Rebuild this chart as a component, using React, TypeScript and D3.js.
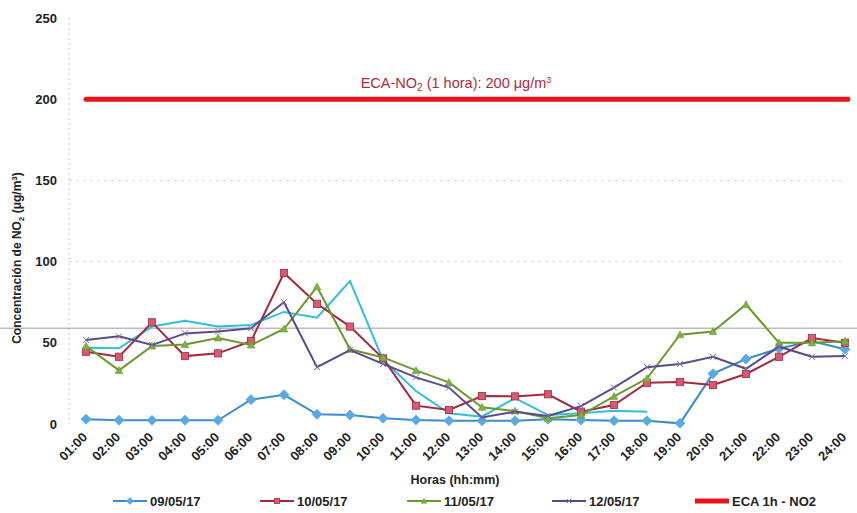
import React from "react";
import * as d3 from "d3";

const hours = [
  "01:00","02:00","03:00","04:00","05:00","06:00","07:00","08:00","09:00","10:00","11:00","12:00",
  "13:00","14:00","15:00","16:00","17:00","18:00","19:00","20:00","21:00","22:00","23:00","24:00",
];

const s0905 = [3, 2.3, 2.3, 2.3, 2.3, 15, 18, 6, 5.5, 3.5, 2.5, 2, 2, 2, 3, 2.5, 2, 2, 0.4, 31, 40, 46.5, 51, 46];
const s1005 = [44.5, 41.4, 62.6, 41.8, 43.5, 51, 93, 74, 60, 40.4, 11.3, 8.6, 17.2, 17, 18.3, 7.6, 11.7, 25.4, 25.8, 24, 30.8, 41.4, 53, 50];
const s1105 = [48, 33, 48, 49, 53, 48.6, 58.5, 84.5, 46, 41, 33, 25.6, 10.3, 8, 3.5, 5.5, 17, 28, 55, 57, 73.6, 50, 50, 51];
const s1205 = [51.7, 54, 48.6, 55.8, 57, 59, 75, 35, 45.5, 37, 28.7, 22.4, 4, 7.6, 5, 11, 22.4, 35, 37, 41.4, 34, 47.6, 41.4, 41.8];
const sCyan = [47, 46.6, 60, 63.6, 60, 61, 69, 65.4, 88, 39.4, 20.3, 6.6, 4.5, 16, 5.5, 6.6, 8.2, 7.6];

const yTicks = [0, 50, 100, 150, 200, 250];
const gridTicks = [100, 150];
const ecaLimit = 200;
const scanLine = 59;

const legendLabels = ["09/05/17", "10/05/17", "11/05/17", "12/05/17", "ECA 1h - NO2"];

export default function App() {
  const W = 857, H = 513;
  const x = d3.scalePoint<string>().domain(hours).range([86, 845]);
  const y = d3.scaleLinear().domain([0, 250]).range([424, 18]);
  const line = d3.line<number>().x((_, i) => x(hours[i]) as number).y((d) => y(d));
  const font = "Arial, 'Liberation Sans', sans-serif";

  const series = [
    { data: s0905, color: "#3a8ccc", marker: "diamond", mfill: "#5aaae2" },
    { data: s1005, color: "#a32a3e", marker: "square", mfill: "#d65a72" },
    { data: s1105, color: "#6a9a2e", marker: "triangle", mfill: "#7fb042" },
    { data: s1205, color: "#5a4a8c", marker: "x", mfill: "#7a6aa8" },
  ];

  const drawMarker = (type: string, cx: number, cy: number, fill: string, stroke: string, key: string, sc = 1) => {
    if (type === "diamond") {
      const r = 5 * sc;
      return <path key={key} d={`M${cx},${cy - r}L${cx + r},${cy}L${cx},${cy + r}L${cx - r},${cy}Z`} fill={fill} stroke={fill} strokeWidth={0.8} />;
    }
    if (type === "square") {
      const r = 3.6 * sc;
      return <rect key={key} x={cx - r} y={cy - r} width={2 * r} height={2 * r} fill={fill} stroke={stroke} strokeWidth={0.8} />;
    }
    if (type === "triangle") {
      const r = 3.8 * sc;
      return <path key={key} d={`M${cx},${cy - r}L${cx + r},${cy + r * 0.8}L${cx - r},${cy + r * 0.8}Z`} fill={fill} stroke={stroke} strokeWidth={0.6} />;
    }
    const r = 3 * sc;
    return (
      <path key={key} d={`M${cx - r},${cy - r}L${cx + r},${cy + r}M${cx - r},${cy + r}L${cx + r},${cy - r}`} stroke={fill} strokeWidth={1} />
    );
  };

  const legendX = [113, 260, 407, 552, 695];

  return (
    <svg width={W} height={H} style={{ position: "absolute", left: 0, top: 0, background: "#fff" }} fontFamily={font}>
      <rect width={W} height={H} fill="#fff" />
      {gridTicks.map((t) => (
        <line key={t} x1={69} x2={845} y1={y(t)} y2={y(t)} stroke="#d8d8d8" strokeDasharray="3,4" strokeWidth={1} />
      ))}
      <line x1={69} x2={69} y1={y(250)} y2={y(0)} stroke="#c8c8c8" strokeDasharray="2,3" />
      <line x1={0} x2={W} y1={y(scanLine)} y2={y(scanLine)} stroke="#9a9a9a" strokeWidth={1} />
      {yTicks.map((t) => (
        <text key={t} x={57} y={y(t)} dy="0.35em" textAnchor="end" fontSize={13} fontWeight="bold" fill="#222">
          {t}
        </text>
      ))}
      <text transform={`translate(21,${258}) rotate(-90)`} textAnchor="middle" fontSize={12} fontWeight="bold" fill="#222">
        Concentración de NO<tspan fontSize={8} dy={3}>2</tspan><tspan dy={-3}> (μg/m</tspan><tspan fontSize={8} dy={-4}>3</tspan><tspan dy={4}>)</tspan>
      </text>
      <line x1={86} x2={848} y1={y(ecaLimit)} y2={y(ecaLimit)} stroke="#e8141e" strokeWidth={5} strokeLinecap="round" />
      <text x={456} y={88} textAnchor="middle" fontSize={14.5} fill="#b02a40">
        ECA-NO<tspan fontSize={10} dy={3}>2</tspan><tspan dy={-3}> (1 hora): 200 μg/m</tspan><tspan fontSize={9} dy={-5}>3</tspan>
      </text>
      <path d={line(sCyan) || ""} fill="none" stroke="#2ec0da" strokeWidth={2} />
      {series.map((s, si) => (
        <g key={si}>
          <path d={line(s.data) || ""} fill="none" stroke={s.color} strokeWidth={2} />
          {s.data.map((v, i) => drawMarker(s.marker, x(hours[i]) as number, y(v), s.mfill, s.color, `${si}-${i}`))}
        </g>
      ))}
      {hours.map((h) => (
        <text key={h} transform={`translate(${(x(h) as number) + 2},${438}) rotate(-45)`} textAnchor="end" fontSize={13} fontWeight="bold" fill="#222">
          {h}
        </text>
      ))}
      <text x={455} y={484} textAnchor="middle" fontSize={12.5} fontWeight="bold" fill="#222">Horas (hh:mm)</text>
      {legendLabels.map((l, i) => {
        const lx = legendX[i];
        const isEca = i === 4;
        const s = series[i];
        return (
          <g key={l}>
            <line x1={lx} x2={lx + 34} y1={501} y2={501} stroke={isEca ? "#e8141e" : s.color} strokeWidth={isEca ? 5 : 2} />
            {!isEca && drawMarker(s.marker, lx + 17, 501, s.mfill, s.color, `lg${i}`, 0.7)}
            <text x={lx + 37} y={501} dy="0.35em" fontSize={13} fontWeight="bold" fill="#222">{l}</text>
          </g>
        );
      })}
    </svg>
  );
}
